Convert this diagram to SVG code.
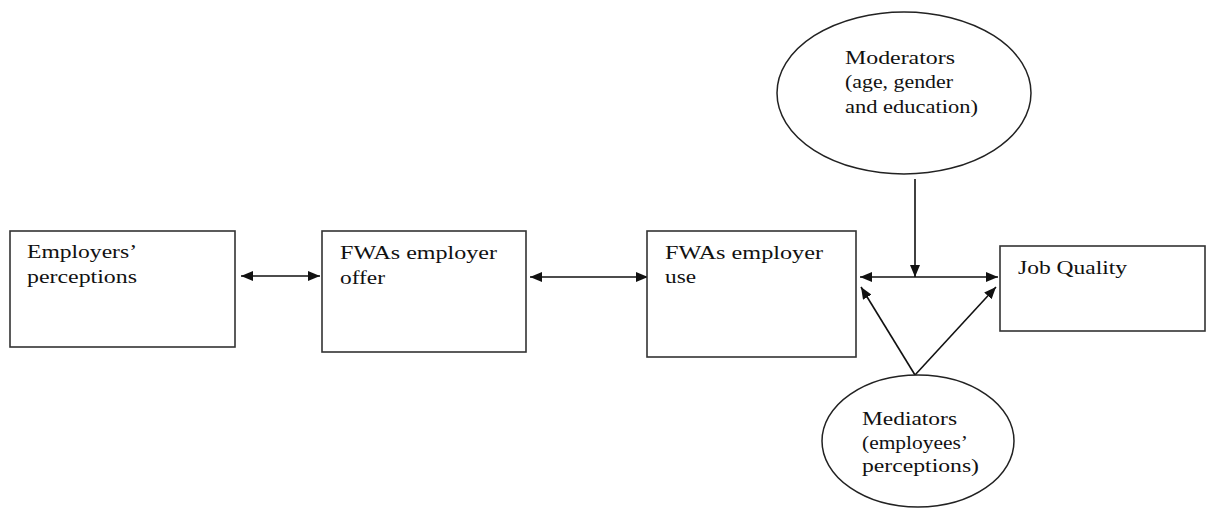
<svg xmlns="http://www.w3.org/2000/svg" width="1208" height="509" viewBox="0 0 1208 509">
<style>
.box{fill:#fff;stroke:#333;stroke-width:1.6}
.ell{fill:#fff;stroke:#222;stroke-width:1.5}
.t{font-family:"Liberation Serif","Times New Roman",serif;font-size:18px;fill:#111}
.c{stroke:#111;stroke-width:1.6;fill:none}
</style>
<defs>
<marker id="ah" viewBox="0 0 12 10" refX="12" refY="5" markerWidth="12" markerHeight="10" markerUnits="userSpaceOnUse" orient="auto-start-reverse">
<path d="M0,0 L12,5 L0,10 Z" fill="#111"/>
</marker>
</defs>
<rect width="1208" height="509" fill="#fff"/>
<g id="connectors">
<line class="c" x1="241" y1="276" x2="320" y2="276" marker-start="url(#ah)" marker-end="url(#ah)"/>
<line class="c" x1="530" y1="277" x2="648" y2="277" marker-start="url(#ah)" marker-end="url(#ah)"/>
<line class="c" x1="860" y1="277" x2="998" y2="277" marker-start="url(#ah)" marker-end="url(#ah)"/>
<line class="c" x1="915" y1="179" x2="915" y2="277" marker-end="url(#ah)"/>
<line class="c" x1="915" y1="375" x2="861" y2="287" marker-end="url(#ah)"/>
<line class="c" x1="915" y1="375" x2="996" y2="287" marker-end="url(#ah)"/>
</g>
<g id="employers-perceptions">
<rect class="box" x="10" y="231" width="225" height="116"/>
<text class="t" x="27" y="258" textLength="110" lengthAdjust="spacingAndGlyphs">Employers’</text>
<text class="t" x="27" y="283" textLength="110" lengthAdjust="spacingAndGlyphs">perceptions</text>
</g>
<g id="fwas-offer">
<rect class="box" x="322" y="231" width="204" height="121"/>
<text class="t" x="340" y="259" textLength="157" lengthAdjust="spacingAndGlyphs">FWAs employer</text>
<text class="t" x="340" y="284" textLength="45" lengthAdjust="spacingAndGlyphs">offer</text>
</g>
<g id="fwas-use">
<rect class="box" x="647" y="231" width="209" height="126"/>
<text class="t" x="665" y="259" textLength="158" lengthAdjust="spacingAndGlyphs">FWAs employer</text>
<text class="t" x="665" y="283" textLength="31" lengthAdjust="spacingAndGlyphs">use</text>
</g>
<g id="job-quality">
<rect class="box" x="1000" y="246" width="205" height="85"/>
<text class="t" x="1018" y="274" textLength="109" lengthAdjust="spacingAndGlyphs">Job Quality</text>
</g>
<g id="moderators">
<ellipse class="ell" cx="904" cy="93" rx="127" ry="81"/>
<text class="t" x="845" y="64" textLength="110" lengthAdjust="spacingAndGlyphs">Moderators</text>
<text class="t" x="845" y="88" textLength="108" lengthAdjust="spacingAndGlyphs">(age, gender</text>
<text class="t" x="845" y="113" textLength="133" lengthAdjust="spacingAndGlyphs">and education)</text>
</g>
<g id="mediators">
<ellipse class="ell" cx="918" cy="441" rx="96" ry="66"/>
<text class="t" x="862" y="425" textLength="95" lengthAdjust="spacingAndGlyphs">Mediators</text>
<text class="t" x="862" y="449" textLength="106" lengthAdjust="spacingAndGlyphs">(employees’</text>
<text class="t" x="862" y="472" textLength="117" lengthAdjust="spacingAndGlyphs">perceptions)</text>
</g>
</svg>
